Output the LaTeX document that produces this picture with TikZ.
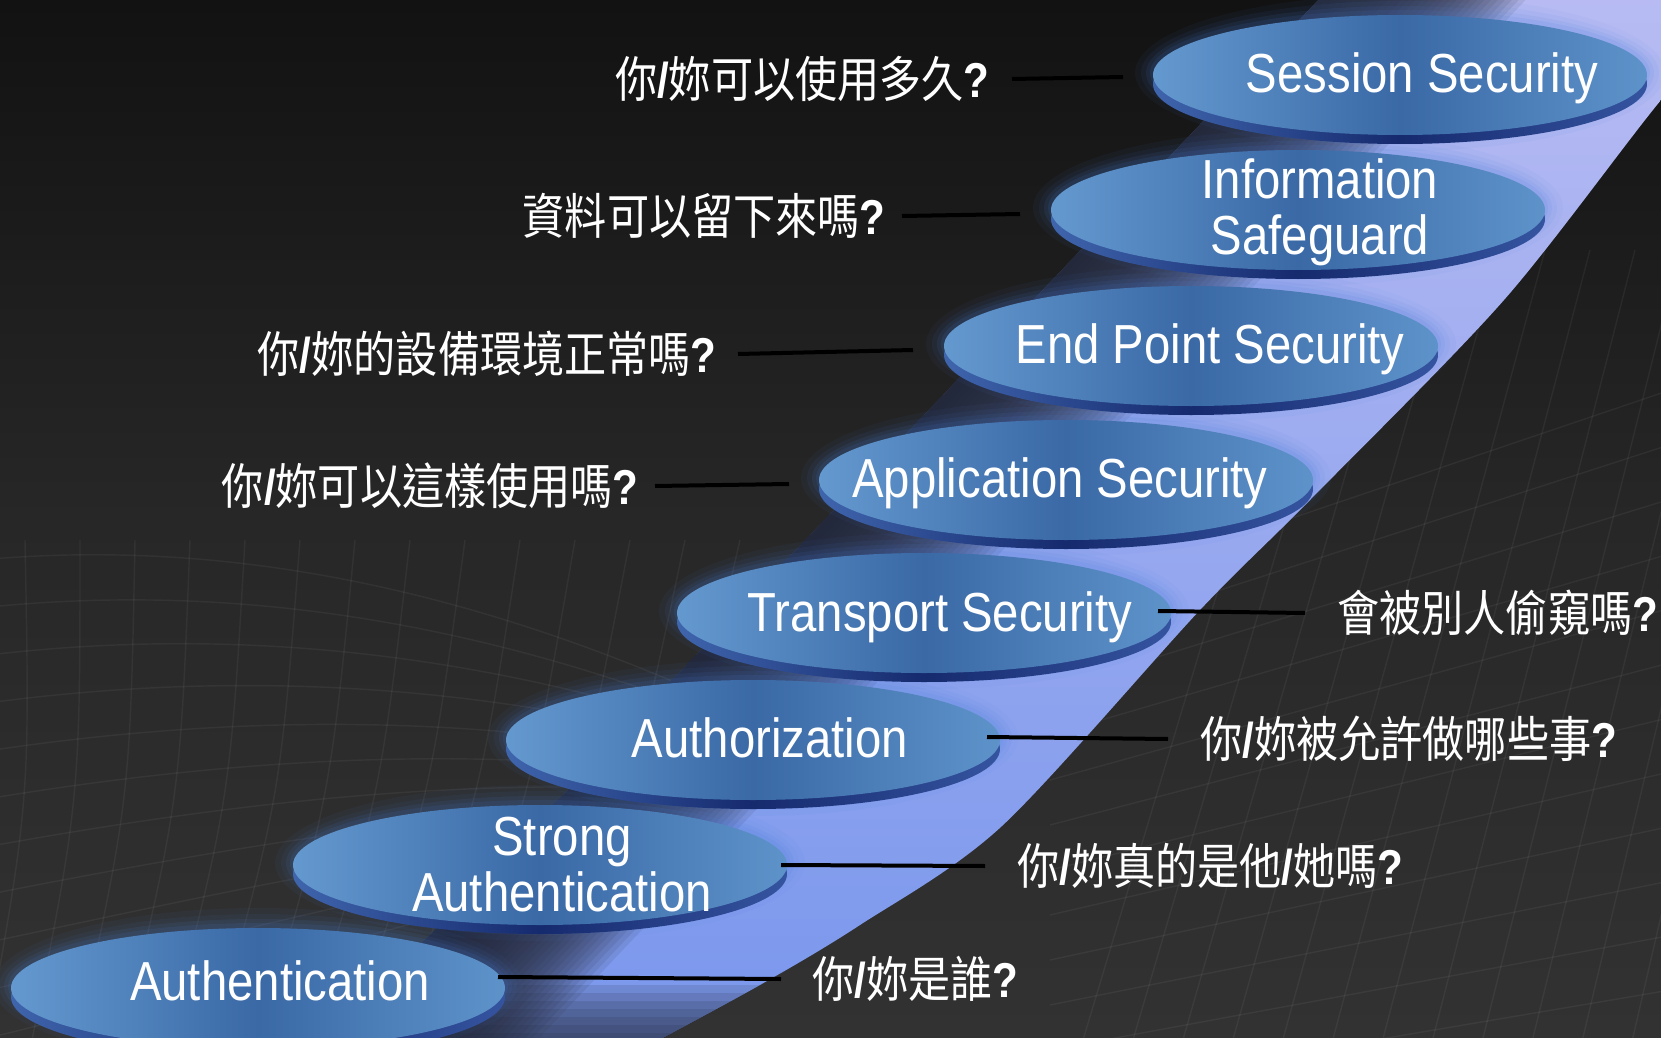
\documentclass[tikz,border=0pt]{standalone}
\usepackage{fontspec}
\setmainfont{Liberation Sans}[FakeStretch=0.86]
\newfontfamily\cjk{Noto Sans CJK TC}[FakeStretch=0.86]
\usetikzlibrary{shapes.geometric}

\definecolor{bgTop}{HTML}{121212}
\definecolor{bgMid}{HTML}{272727}
\definecolor{bgBot}{HTML}{323232}
\definecolor{lavTop}{HTML}{B9BCF3}
\definecolor{lavBot}{HTML}{7896EC}
\definecolor{bandDark}{HTML}{232838}
\definecolor{faceL}{HTML}{6499CF}
\definecolor{faceM}{HTML}{3A69A6}
\definecolor{faceR}{HTML}{5E93CA}
\definecolor{rimL}{HTML}{3F65AD}
\definecolor{rimM}{HTML}{162A6E}
\definecolor{rimR}{HTML}{3554A0}
\definecolor{glowc}{HTML}{4A80DC}

% bold Latin slash and question mark inside the Chinese questions
\newcommand\SLH{{\normalfont\bfseries /}}
\newcommand\QM{{\normalfont\bfseries ?}}

\begin{document}
\begin{tikzpicture}[x=0.5pt, y=-0.5pt,
  face/.style={ellipse, minimum width=247pt, minimum height=60pt,
    inner sep=0pt, outer sep=0pt,
    left color=faceL, right color=faceR, middle color=faceM},
  steplabel/.style={text=white, font=\fontsize{27.5pt}{28pt}\selectfont,
    align=center, inner sep=0pt},
  question/.style={text=white, font=\cjk\fontsize{24.5pt}{26pt}\selectfont,
    inner sep=0pt},
  link/.style={draw=black, line width=2pt},
  meshline/.style={draw=white, opacity=0.05, line width=0.7pt}
]
\useasboundingbox (0,0) rectangle (1661,1038);
\clip (0,0) rectangle (1661,1038);

% dark backdrop
\shade[top color=bgTop, bottom color=bgBot, middle color=bgMid]
  (0,0) rectangle (1661,1038);

% faint wire mesh
\begin{scope}[meshline]
  \foreach \k in {0,...,10}
    \draw (-20,{560+\k*48}) .. controls (250,{535+\k*44}) and (520,{600+\k*28}) .. (800,{740+\k*10});
  \foreach \k in {0,...,14}
    \draw ({-30+\k*55},540) .. controls ({-20+\k*50},800) .. ({-60+\k*45},1050);
  \foreach \k in {0,...,14}
    \draw (1050,{600+\k*45}) -- (1700,{380+\k*55});
  \foreach \k in {0,...,14}
    \draw ({1080+\k*50},1050) -- ({1320+\k*45},250);
\end{scope}

% light ramp behind the steps
\begin{scope}
  \clip (1328,-10) -- (321,1050) -- plot[smooth] coordinates
    {(640,1050) (760,985) (860,925) (1002,826) (1200,610) (1310,500) (1504,300) (1661,100) (1760,-10)} -- cycle;
  \shade[top color=lavTop, bottom color=lavBot] (0,-20) rectangle (1800,1060);
  \foreach \s in {-75,-70,...,70}
    \fill[bandDark, opacity=0.1]
      ({1429-0.725*200+0.689*300},{-0.689*200-0.725*300}) --
      ({1429+0.725*\s+0.689*300},{0.689*\s-0.725*300}) --
      ({1429+0.725*\s-0.689*1700},{0.689*\s+0.725*1700}) --
      ({1429-0.725*200-0.689*1700},{-0.689*200+0.725*1700}) -- cycle;
  % the ramp dies away at the foot
  \foreach \y in {985,993,...,1033}
    \fill[bandDark, opacity=0.14] (0,\y) rectangle (1800,1060);
\end{scope}

% step centres
\coordinate (c1) at (1400,75);
\coordinate (c2) at (1298,210);
\coordinate (c3) at (1191,346);
\coordinate (c4) at (1066,480);
\coordinate (c5) at (924,613);
\coordinate (c6) at (753,740);
\coordinate (c7) at (540,865);
\coordinate (c8) at (258,988);

% soft glow round every disc
\foreach \i in {1,...,8}
  \foreach \d/\o in {18/0.05, 12/0.07, 7/0.09, 3/0.11}
    \fill[glowc, opacity=\o] ([yshift=1pt]c\i) ellipse [x radius={123.5pt+0.5pt*\d}, y radius={30pt+0.5pt*\d}];

% rims and faces
\foreach \i in {1,...,8}{
  \shade[left color=rimL, right color=rimR, middle color=rimM]
    ([yshift=-4.5pt]c\i) ellipse [x radius=123.5pt, y radius=30pt];
  \node[face] (e\i) at (c\i) {};
}

% step labels
\node[steplabel, anchor=base] (t1) at (1422,93) {Session Security};
\node[steplabel] (t2) at (1320,212) {Information\\Safeguard};
\node[steplabel, anchor=base] (t3) at (1210,363) {End Point Security};
\node[steplabel, anchor=base] (t4) at (1060,497) {Application Security};
\node[steplabel, anchor=base] (t5) at (940,631) {Transport Security};
\node[steplabel, anchor=base] (t6) at (770,757) {Authorization};
\node[steplabel] (t7) at (562,865) {Strong\\Authentication};
\node[steplabel, anchor=base] (t8) at (280,1000) {Authentication};

% questions
\node[question, anchor=east] (q1) at (990,79) {你\SLH 妳可以使用多久\QM};
\node[question, anchor=east] (q2) at (886,216) {資料可以留下來嗎\QM};
\node[question, anchor=east] (q3) at (717,354) {你\SLH 妳的設備環境正常嗎\QM};
\node[question, anchor=east] (q4) at (639,486) {你\SLH 妳可以這樣使用嗎\QM};
\node[question, anchor=west] (q5) at (1337,613) {會被別人偷窺嗎\QM};
\node[question, anchor=west] (q6) at (1200,739) {你\SLH 妳被允許做哪些事\QM};
\node[question, anchor=west] (q7) at (1017,866) {你\SLH 妳真的是他\SLH 她嗎\QM};
\node[question, anchor=west] (q8) at (812,979) {你\SLH 妳是誰\QM};

% leader lines
\coordinate (l1) at (1123,77);
\coordinate (l2) at (1020,214);
\coordinate (l3) at (913,350);
\coordinate (l4) at (789,484);
\coordinate (l5) at (1158,611);
\coordinate (l6) at (987,737);
\coordinate (l7) at (781,865);
\coordinate (l8) at (498,977);
\draw[link] ([xshift=11pt]q1.east) -- (l1);
\draw[link] ([xshift=8pt]q2.east) -- (l2);
\draw[link] ([xshift=10.5pt]q3.east) -- (l3);
\draw[link] ([xshift=8pt]q4.east) -- (l4);
\draw[link] (l5) -- ([xshift=-16pt]q5.west);
\draw[link] (l6) -- ([xshift=-16pt]q6.west);
\draw[link] (l7) -- ([xshift=-16pt]q7.west);
\draw[link] (l8) -- ([xshift=-15.5pt]q8.west);
\end{tikzpicture}
\end{document}
